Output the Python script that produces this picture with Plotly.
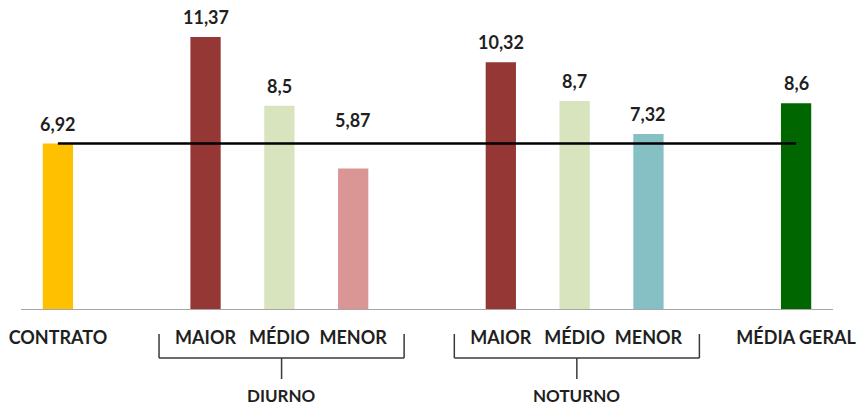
import plotly.graph_objects as go

# Average values per category (Brazilian decimal comma in labels)
contrato_label = "CONTRATO"
contrato_value = 6.92

turnos = ["DIURNO", "NOTURNO"]
faixas = ["MAIOR", "MÉDIO", "MENOR"]
diurno_values = [11.37, 8.5, 5.87]
noturno_values = [10.32, 8.7, 7.32]

geral_label = "MÉDIA GERAL"
geral_value = 8.6

faixa_colors = ["#953735", "#D7E4BD", "#D99694"]
noturno_colors = ["#953735", "#D7E4BD", "#86BFC4"]
contrato_color = "#FFC000"
geral_color = "#006600"

TEXT = "#1F1F1F"
FONT = "Lato"

# ---- lay out bars on a slot grid: one empty slot between blocks ----
xs, ys, labels, colors = [], [], [], []
slot = 0
xs.append(slot); ys.append(contrato_value); labels.append(contrato_label); colors.append(contrato_color)
slot += 2
groups = []
for name, vals, cols in [(turnos[0], diurno_values, faixa_colors),
                         (turnos[1], noturno_values, noturno_colors)]:
    start = slot
    for f, v, c in zip(faixas, vals, cols):
        xs.append(slot); ys.append(v); labels.append(f); colors.append(c)
        slot += 1
    groups.append((name, start, slot - 1))
    slot += 1
xs.append(slot); ys.append(geral_value); labels.append(geral_label); colors.append(geral_color)


def fmt(v):
    s = f"{v:.2f}".rstrip("0").rstrip(".")
    return s.replace(".", ",")


fig = go.Figure()
fig.add_trace(go.Bar(
    x=xs, y=ys, marker=dict(color=colors, line=dict(width=0)),
    width=0.41, hoverinfo="skip", showlegend=False,
))
# contract reference line across all categories
fig.add_trace(go.Scatter(
    x=[xs[0], xs[-1]], y=[contrato_value, contrato_value], mode="lines",
    line=dict(color="black", width=2.5), hoverinfo="skip", showlegend=False,
))

annotations = []
for x, v in zip(xs, ys):
    # labels of bars below the contract line sit above the line instead
    below = v < contrato_value
    annotations.append(dict(
        x=x, y=max(v, contrato_value), xref="x", yref="y", text=fmt(v), showarrow=False,
        yanchor="bottom", yshift=11 if below else 7,
        font=dict(family=FONT, size=18, color=TEXT, weight="bold"),
    ))

# plot area geometry (pixels) for the group brackets below the axis
PLOT_H = 309.0


def py(pix_below_axis):
    return -pix_below_axis / PLOT_H


shapes = []
for name, a, b in groups:
    left, right = a - 0.63, b + 0.69
    mid = (left + right) / 2
    line = dict(color="#3A3A3A", width=1.5)
    shapes.append(dict(type="line", xref="x", yref="paper", x0=left, x1=left, y0=py(25), y1=py(49), line=line))
    shapes.append(dict(type="line", xref="x", yref="paper", x0=right, x1=right, y0=py(25), y1=py(49), line=line))
    shapes.append(dict(type="line", xref="x", yref="paper", x0=left, x1=right, y0=py(49), y1=py(49), line=line))
    shapes.append(dict(type="line", xref="x", yref="paper", x0=mid, x1=mid, y0=py(49), y1=py(70), line=line))
    annotations.append(dict(
        x=mid, y=py(74), xref="x", yref="paper", text=name, showarrow=False,
        yanchor="top", font=dict(family=FONT, size=17, color=TEXT, weight="bold"),
    ))

fig.update_layout(
    width=857, height=405,
    margin=dict(l=21, r=24, t=0, b=96),
    paper_bgcolor="white", plot_bgcolor="white",
    xaxis=dict(
        range=[-0.5, slot + 0.5], tickvals=xs, ticktext=labels,
        showline=True, linecolor="#A6A6A6", linewidth=1, showgrid=False,
        zeroline=False, ticks="", ticklabelstandoff=12,
        tickfont=dict(family=FONT, size=18, color=TEXT, weight="bold"),
        fixedrange=True,
    ),
    yaxis=dict(range=[0, 12.92], visible=False, fixedrange=True),
    annotations=annotations, shapes=shapes,
)

fig.write_html("out.html")
